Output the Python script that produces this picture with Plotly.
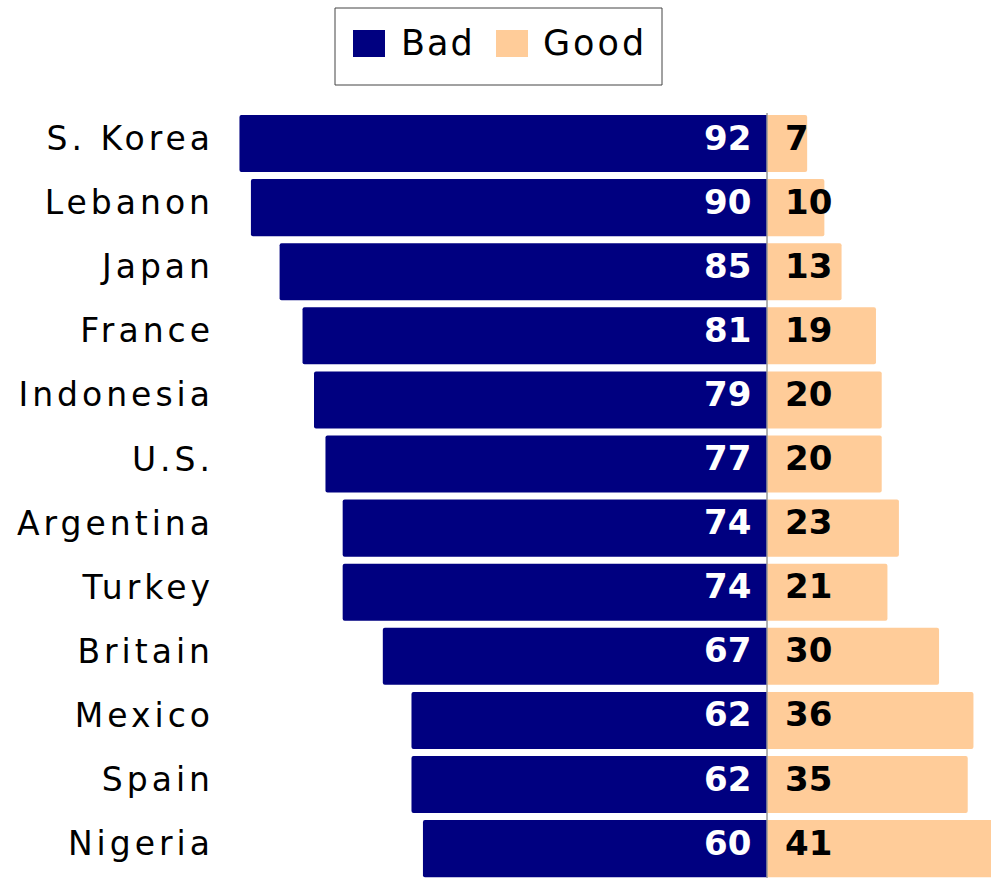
import plotly.graph_objects as go

countries = ["S. Korea", "Lebanon", "Japan", "France", "Indonesia", "U.S.",
             "Argentina", "Turkey", "Britain", "Mexico", "Spain", "Nigeria"]
bad = [92, 90, 85, 81, 79, 77, 74, 74, 67, 62, 62, 60]
good = [7, 10, 13, 19, 20, 20, 23, 21, 30, 36, 35, 41]

NAVY = "#000080"
PEACH = "#FFCC99"
FONT = "DejaVu Sans"

fig = go.Figure()
fig.add_trace(go.Bar(
    y=countries, x=[-v for v in bad], orientation="h", name="Bad",
    marker=dict(color=NAVY, line=dict(width=0), cornerradius=2),
    width=0.89, showlegend=False, hoverinfo="skip",
))
fig.add_trace(go.Bar(
    y=countries, x=good, orientation="h", name="Good",
    marker=dict(color=PEACH, line=dict(width=0), cornerradius=2),
    width=0.89, showlegend=False, hoverinfo="skip",
))

annotations = []
for c, b, g in zip(countries, bad, good):
    annotations.append(dict(
        x=0, y=c, xref="x", yref="y", text=str(b), showarrow=False,
        xanchor="right", yanchor="middle", xshift=-14, yshift=6,
        font=dict(family=FONT, size=34, color="white", weight="bold"),
    ))
    annotations.append(dict(
        x=0, y=c, xref="x", yref="y", text=str(g), showarrow=False,
        xanchor="left", yanchor="middle", xshift=16, yshift=6,
        font=dict(family=FONT, size=34, color="black", weight="bold"),
    ))

# manual legend
annotations.append(dict(
    x=399, y=43, xref="paper", yref="paper", text='<span style="letter-spacing:2px">Bad</span>',
    showarrow=False, xanchor="left", yanchor="middle",
    font=dict(family=FONT, size=35, color="black"),
))
annotations.append(dict(
    x=541, y=43, xref="paper", yref="paper", text='<span style="letter-spacing:3px">Good</span>',
    showarrow=False, xanchor="left", yanchor="middle",
    font=dict(family=FONT, size=35, color="black"),
))

W, H = 991, 878
L, R, T, B = 225, 0, 100, 0
pw, ph = W - L - R, H - T - B


def px_x(x):
    return (x - L) / pw


def px_y(y):
    return 1 - (y - T) / ph


for a in annotations:
    if a["xref"] == "paper":
        a["x"] = px_x(a["x"])
        a["y"] = px_y(a["y"])

shapes = [
    dict(type="rect", xref="paper", yref="paper",
         x0=px_x(335), x1=px_x(662), y0=px_y(85), y1=px_y(8),
         line=dict(color="#444444", width=1), fillcolor="white", layer="above"),
    dict(type="rect", xref="paper", yref="paper",
         x0=px_x(353), x1=px_x(385), y0=px_y(57), y1=px_y(30),
         line=dict(width=0), fillcolor=NAVY, layer="above"),
    dict(type="rect", xref="paper", yref="paper",
         x0=px_x(496), x1=px_x(528), y0=px_y(57), y1=px_y(30),
         line=dict(width=0), fillcolor=PEACH, layer="above"),
    dict(type="line", xref="x", yref="paper", x0=0, x1=0,
         y0=0, y1=px_y(113), line=dict(color="#999999", width=1.5), layer="above"),
]

fig.update_layout(
    width=W, height=H,
    margin=dict(l=L, r=R, t=T, b=B, pad=0),
    barmode="relative", bargap=0.11,
    plot_bgcolor="white", paper_bgcolor="white",
    font=dict(family=FONT, color="black"),
    xaxis=dict(range=[-94.52, 39.06], visible=False, fixedrange=True),
    yaxis=dict(
        categoryorder="array", categoryarray=countries,
        range=[11.458, -0.679],
        tickvals=countries,
        ticktext=['<span style="letter-spacing:4px">%s</span>' % c for c in countries],
        tickfont=dict(family=FONT, size=33, color="black"),
        showgrid=False, zeroline=False, showline=False, ticks="",
        ticklabelstandoff=10, ticklabelshift=5, fixedrange=True,
    ),
    annotations=annotations,
    shapes=shapes,
    showlegend=False,
)

fig.write_html(
    "out.html",
    config={"displayModeBar": False},
    post_script="document.body.style.margin='0';document.body.style.overflow='hidden';",
)
